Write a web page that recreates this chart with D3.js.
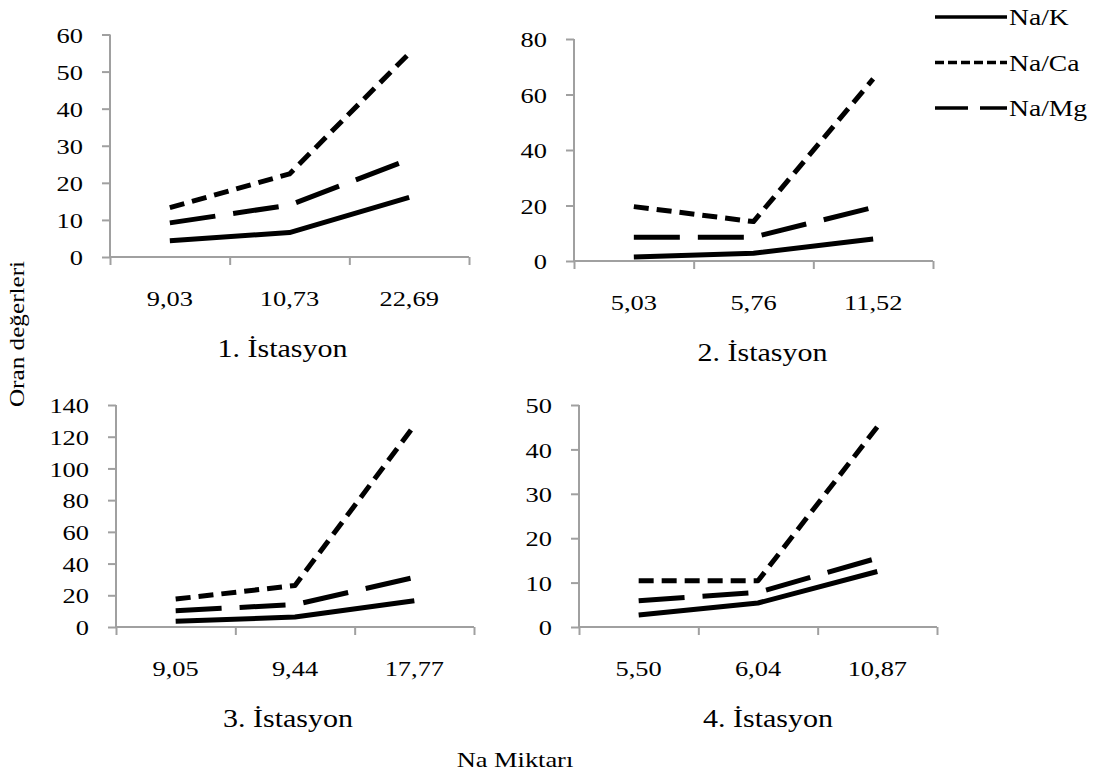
<!DOCTYPE html>
<html>
<head>
<meta charset="utf-8">
<script src="https://cdn.jsdelivr.net/npm/d3@7"></script>
<style>
  html, body { margin: 0; padding: 0; background: #fff; }
  svg { display: block; }
  text { font-family: "Liberation Serif", "Times New Roman", serif; fill: #000; }
  .axis path, .axis line { stroke: #a0a0a0; stroke-width: 2; }
</style>
</head>
<body>
<svg id="chart" width="1100" height="774"></svg>
<script>
const stations = ["1. İstasyon", "2. İstasyon", "3. İstasyon", "4. İstasyon"];
const naLabels = [
  ["9,03", "10,73", "22,69"],
  ["5,03", "5,76", "11,52"],
  ["9,05", "9,44", "17,77"],
  ["5,50", "6,04", "10,87"]
];
const yMax = [60, 80, 140, 50];
const yStep = [10, 20, 20, 10];

const seriesNames = ["Na/K", "Na/Ca", "Na/Mg"];
const naK = [[4.4, 6.6, 16.1], [1.4, 2.8, 7.9], [3.6, 6.3, 16.6], [2.7, 5.4, 12.5]];
const naCa = [[13.3, 22.4, 54.9], [19.6, 14.2, 65.6], [17.6, 26.2, 127], [10.4, 10.4, 45.1]];
const naMg = [[9.2, 14.0, 26.3], [8.6, 8.6, 19.3], [10.3, 14.1, 31.3], [5.9, 7.8, 15.5]];
const seriesValues = [naK, naCa, naMg];

// plot areas of the four small charts
const panels = [
  { left: 110, right: 469, top: 34.5, bottom: 257, titleDx: -7 },
  { left: 574, right: 933, top: 39, bottom: 261, titleDx: 9 },
  { left: 116, right: 474, top: 405, bottom: 627, titleDx: -7 },
  { left: 579, right: 937, top: 405, bottom: 627, titleDx: 10 }
];

const dashes = ["none", "15,8", "46,18"];
const legendDashes = ["none", "9,4", "33,12"];
const stretch = 1.2;

const svg = d3.select("#chart");

function stretchedText(g, x, y, str, size, anchor) {
  return g.append("text")
    .attr("transform", `translate(${x},${y}) scale(${stretch},1)`)
    .attr("text-anchor", anchor || "middle")
    .style("font-size", size + "px")
    .text(str);
}

panels.forEach((p, i) => {
  const g = svg.append("g");

  const x = d3.scaleBand()
    .domain(naLabels[i])
    .range([p.left, p.right]);

  const xEdge = d3.scaleLinear()
    .domain([0, 3])
    .range([p.left, p.right]);

  const y = d3.scaleLinear()
    .domain([0, yMax[i]])
    .range([p.bottom, p.top]);

  // y axis
  const yAxis = g.append("g")
    .attr("class", "axis")
    .attr("transform", `translate(${p.left},0)`)
    .call(d3.axisLeft(y)
      .tickValues(d3.range(0, yMax[i] + 1, yStep[i]))
      .tickSize(8)
      .tickSizeOuter(0)
      .tickPadding(0)
      .tickFormat(d3.format("d")));
  yAxis.selectAll("text")
    .attr("x", null)
    .attr("dy", null)
    .attr("dominant-baseline", "central")
    .attr("transform", `translate(-27,0) scale(${stretch},1)`)
    .style("font-size", "22px")
    .style("font-family", "Liberation Serif");
  yAxis.select(".domain").attr("d", `M0,${p.top}V${p.bottom}`);

  // x axis with ticks between categories
  const xAxis = g.append("g")
    .attr("class", "axis")
    .attr("transform", `translate(0,${p.bottom})`)
    .call(d3.axisBottom(xEdge)
      .tickValues([0, 1, 2, 3])
      .tickSize(8)
      .tickSizeOuter(0)
      .tickFormat(""));
  xAxis.select(".domain").attr("d", `M${p.left},0H${p.right}`);

  naLabels[i].forEach(lab => {
    stretchedText(g, x(lab) + x.bandwidth() / 2, p.bottom + 49, lab, 22);
  });

  stretchedText(g, (p.left + p.right) / 2 + p.titleDx, p.bottom + 100, stations[i], 25);

  const line = d3.line()
    .x((d, j) => x(naLabels[i][j]) + x.bandwidth() / 2)
    .y(d => y(d));

  seriesValues.forEach((s, k) => {
    g.append("path")
      .datum(s[i])
      .attr("d", line)
      .attr("fill", "none")
      .attr("stroke", "#000")
      .attr("stroke-width", 5)
      .attr("stroke-linejoin", "round")
      .attr("stroke-dasharray", dashes[k]);
  });
});

// axis titles
svg.append("text")
  .attr("transform", `translate(24,334) rotate(-90) scale(${stretch},1)`)
  .attr("text-anchor", "middle")
  .style("font-size", "21px")
  .text("Oran değerleri");

stretchedText(svg, 515, 767, "Na Miktarı", 22);

// legend
const legend = svg.append("g");
seriesNames.forEach((name, k) => {
  const ly = 17 + k * 45.5;
  legend.append("line")
    .attr("x1", 935).attr("x2", 1007)
    .attr("y1", ly).attr("y2", ly)
    .attr("stroke", "#000")
    .attr("stroke-width", 3.5)
    .attr("stroke-dasharray", legendDashes[k]);
  stretchedText(legend, 1009, ly, name, 23, "start")
    .attr("dominant-baseline", "central");
});
</script>
</body>
</html>
